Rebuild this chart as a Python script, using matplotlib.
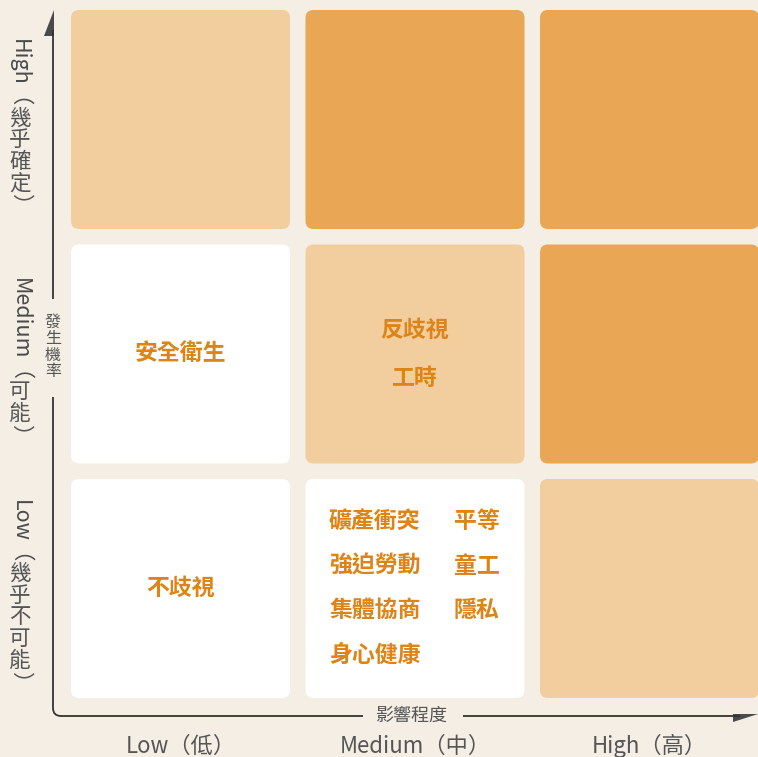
import matplotlib.pyplot as plt
from matplotlib.patches import FancyBboxPatch, Polygon, PathPatch
from matplotlib.path import Path

plt.rcParams['font.family'] = ['Noto Sans CJK TC', 'DejaVu Sans']

# impact levels (x, low -> high) and probability levels (y, high -> low)
impact_labels = ["Low（低）", "Medium（中）", "High（高）"]
prob_words = ["High", "Medium", "Low"]
prob_zh = ["幾乎確定", "可能", "幾乎不可能"]

# shade per cell: rows = probability high->low, cols = impact low->high
shade = [
    ["light", "dark", "dark"],
    ["white", "light", "dark"],
    ["white", "white", "light"],
]

# topics per cell: (row, col) -> list of item columns
topics = {
    (1, 0): [["安全衛生"]],
    (1, 1): [["反歧視", "工時"]],
    (2, 0): [["不歧視"]],
    (2, 1): [["礦產衝突", "強迫勞動", "集體協商", "身心健康"], ["平等", "童工", "隱私"]],
}

colors = {"light": "#F2CD9E", "dark": "#E9A654", "white": "#FFFFFF"}
bg = "#F4EEE5"
text_orange = "#DE8416"
gray = "#555555"

fig = plt.figure(figsize=(7.58, 7.57), dpi=100, facecolor=bg)
ax = fig.add_axes([0, 0, 1, 1])
ax.set_xlim(0, 758)
ax.set_ylim(757, 0)
ax.axis("off")

x0, y0, cell, gap = 71, 10, 219, 15.5

for r in range(3):
    for c in range(3):
        x = x0 + c * (cell + gap)
        y = y0 + r * (cell + gap)
        ax.add_patch(FancyBboxPatch((x, y), cell, cell,
                                    boxstyle="round,pad=0,rounding_size=8",
                                    fc=colors[shade[r][c]], ec="none"))

for (r, c), cols in topics.items():
    cx = x0 + c * (cell + gap) + cell / 2
    cy = y0 + r * (cell + gap) + cell / 2
    nrow = len(cols[0])
    step = 48 if nrow == 2 else 44.5
    for j, items in enumerate(cols):
        if len(cols) == 1:
            x, ha = cx, "center"
        else:
            x, ha = (cx - 86, "left") if j == 0 else (cx + 39, "left")
        for i, t in enumerate(items):
            y = cy + (i - (nrow - 1) / 2) * step
            ax.text(x, y, t, color=text_orange, fontsize=16.5, fontweight="bold",
                    ha=ha, va="center")

# axes lines with rounded corner, broken where the titles sit
ax_x, ax_y = 53, 716
line_kw = dict(fc="none", ec="#333333", lw=1.3)
ax.plot([ax_x, ax_x], [30, 299], color="#333333", lw=1.3, solid_capstyle="butt")
verts = [(ax_x, 397), (ax_x, ax_y - 8), (ax_x, ax_y), (ax_x + 8, ax_y), (363, ax_y)]
codes = [Path.MOVETO, Path.LINETO, Path.CURVE3, Path.CURVE3, Path.LINETO]
ax.add_patch(PathPatch(Path(verts, codes), **line_kw))
ax.plot([463, 740], [ax_y, ax_y], color="#333333", lw=1.3, solid_capstyle="butt")
ax.add_patch(Polygon([(ax_x + 0.6, 10), (ax_x + 0.6, 36), (44, 36)], closed=True,
                     fc="#4A4A4A", ec="none"))
ax.add_patch(Polygon([(733, ax_y - 2), (758, ax_y - 2), (733, ax_y + 6)], closed=True,
                     fc="#4A4A4A", ec="none"))

ax.text(ax_x, 347, "發\n生\n機\n率", color=gray, fontsize=11.5, ha="center",
        va="center", linespacing=0.95)
ax.text(412, ax_y, "影響程度", color=gray, fontsize=13, ha="center", va="center")

for c, lab in enumerate(impact_labels):
    ax.text(x0 + c * (cell + gap) + cell / 2, 746, lab, color=gray, fontsize=16,
            ha="center", va="center")

# row labels: latin word + paren rotated, chinese stacked upright
fig.canvas.draw()
renderer = fig.canvas.get_renderer()
for r, (word, zh) in enumerate(zip(prob_words, prob_zh)):
    cy = y0 + r * (cell + gap) + cell / 2
    parts = [
        ax.text(20, cy, word + "（", color="#4A4A4A", fontsize=15.5, rotation=270,
                ha="center", va="top"),
        ax.text(20, cy, "\n".join(zh), color=gray, fontsize=15.5,
                ha="center", va="top", linespacing=0.98),
        ax.text(20, cy, "）", color=gray, fontsize=15.5, rotation=270,
                ha="center", va="top"),
    ]
    heights = [p.get_window_extent(renderer).height for p in parts]
    y = cy - sum(heights) / 2 + 8
    for p, h in zip(parts, heights):
        p.set_y(y)
        y += h

fig.savefig("out.png", dpi=100, facecolor=bg)
